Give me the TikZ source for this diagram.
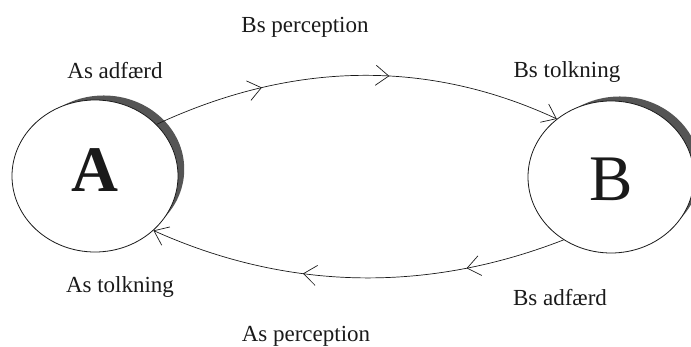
\documentclass[tikz,border=0pt]{standalone}
\usepackage{fontspec}
\setmainfont{Liberation Serif}
\usetikzlibrary{arrows.meta,positioning,shapes.geometric,shadows,decorations.markings}
\definecolor{ink}{HTML}{1A1A1A}
\definecolor{stipple}{HTML}{555555}
\tikzset{
  party/.style={ellipse,draw=ink,line width=.8pt,fill=white,minimum width=166pt,minimum height=152pt,inner sep=0pt,
    drop shadow={shadow xshift=9pt,shadow yshift=7pt,shadow scale=.97,fill=stipple,opacity=1}},
  letter/.style={font=\fontsize{65}{65}\selectfont,text=ink,inner sep=0pt},
  lbl/.style={font=\fontsize{23}{26}\selectfont,text=ink,anchor=base},
  vtip/.tip={Straight Barb[length=13pt,width=20pt,line width=.7pt]},
  flow/.style 2 args={draw=ink,line width=.7pt,-vtip,postaction={decorate},
    decoration={markings,mark=at position #1 with {\arrow{vtip}},mark=at position #2 with {\arrow{vtip}}}},
}
\begin{document}
\begin{tikzpicture}[x=1pt,y=-1pt]
  \useasboundingbox (0,0) rectangle (691,347);
  \clip (0,0) rectangle (691,347);
  \node[party] (A) at (95,176) {};
  \node[party] (B) at (611,177) {};
  \node[letter] (la) at (95,170) {\bfseries A};
  \node[letter] (lb) at (611,179) {B};
  % labels
  \node[lbl] (pB) at (305,33) {Bs perception};
  \node[lbl] (aA) at (115,79) {As adfærd};
  \node[lbl] (tB) at (567,78) {Bs tolkning};
  \node[lbl] (tA) at (120,293) {As tolkning};
  \node[lbl] (aB) at (560,306) {Bs adfærd};
  \node[lbl] (pA) at (306,342) {As perception};
  % the two flows
  \draw[flow={.27}{.58}] (A.40) .. controls (295,60) and (430,60) .. (B.133);
  \draw[flow={.24}{.63}] (B.233) .. controls (430,292) and (290,292) .. (A.-43);
\end{tikzpicture}
\end{document}
